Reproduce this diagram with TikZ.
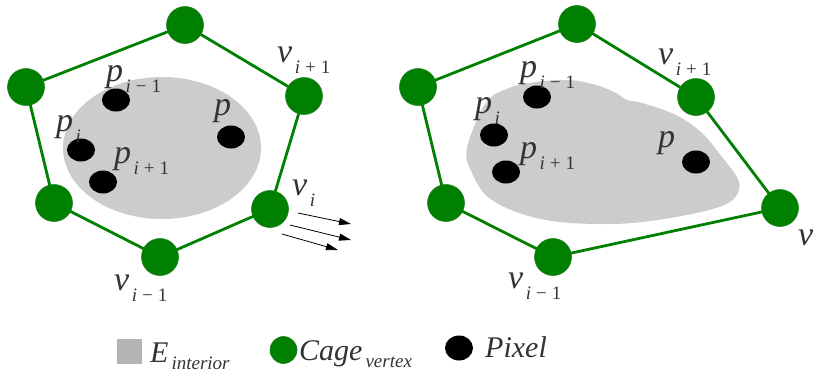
\documentclass[tikz,border=0pt]{standalone}
\usepackage{fontspec}
\setmainfont{Liberation Serif}
\usetikzlibrary{arrows.meta,backgrounds,shapes.geometric}
\definecolor{cagegreen}{HTML}{008000}
\definecolor{blobgray}{HTML}{CCCCCC}
\definecolor{leggray}{HTML}{B3B3B3}
\definecolor{txt}{HTML}{333333}
\newcommand{\mainlab}[2]{{\fontsize{34bp}{34bp}\selectfont\itshape #1}\hspace{2.5bp}\raisebox{-11bp}{\fontsize{19bp}{19bp}\selectfont #2}}
\newcommand{\legtext}[2]{{\fontsize{30bp}{30bp}\selectfont\itshape #1}\hspace{3bp}\raisebox{-7bp}{\fontsize{19bp}{19bp}\selectfont\itshape #2}}
\newcommand{\im}{\textit{i}\hspace{5bp}\char"2212\hspace{5bp}1}
\newcommand{\ip}{\textit{i}\hspace{5bp}+\hspace{5bp}1}
\begin{document}
\begin{tikzpicture}[x=1bp,y=-1bp,
  vert/.style={circle,fill=cagegreen,draw=cagegreen!75!gray,line width=0.6bp,minimum size=37bp,inner sep=0},
  pix/.style={ellipse,fill=black,minimum width=28bp,minimum height=23bp,inner sep=0},
  cage/.style={draw=cagegreen,line width=2.8bp},
  lab/.style={anchor=base west,inner sep=0,text=txt},
  mv/.style={-{Triangle[length=12bp,width=7bp]},line width=0.8bp}]
\useasboundingbox (0,0) rectangle (818,374);

% ---------- left panel ----------
\fill[blobgray] (162,148) ellipse [x radius=99, y radius=71];
\node[vert] (Lt)  at (185,25) {};
\node[vert] (Lur) at (304,96) {};
\node[vert] (Llr) at (270,209) {};
\node[vert] (Lb)  at (160,257) {};
\node[vert] (Lll) at (54,203) {};
\node[vert] (Lul) at (26,87) {};
\begin{scope}[on background layer]
  \draw[cage] (Lt.center) -- (Lur.center) -- (Llr.center) -- (Lb.center)
    -- (Lll.center) -- (Lul.center) -- cycle;
\end{scope}
\node[pix] (Lp1) at (116,100) {};
\node[pix] (Lp2) at (81,150) {};
\node[pix] (Lp3) at (103,182) {};
\node[pix] (Lp4) at (231,137) {};
\node[lab] (Llp1) at (106,81)  {\mainlab{p}{\im}};
\node[lab] (Llp2) at (56,131)  {\mainlab{p}{\textit{i}}};
\node[lab] (Llp3) at (114,163) {\mainlab{p}{\ip}};
\node[lab] (Llp4) at (214,115) {\mainlab{p}{}};
\node[lab] (Llv1) at (277,62)  {\mainlab{v}{\ip}};
\node[lab] (Llv2) at (292,195) {\mainlab{v}{\textit{i}}};
\node[lab] (Llv3) at (114,290) {\mainlab{v}{\im}};
\coordinate (m1s) at (298,213); \coordinate (m1e) at (351,224);
\coordinate (m2s) at (290,225); \coordinate (m2e) at (351,240);
\coordinate (m3s) at (282,234); \coordinate (m3e) at (338,250);
\draw[mv] (m1s) -- (m1e);
\draw[mv] (m2s) -- (m2e);
\draw[mv] (m3s) -- (m3e);

% ---------- right panel ----------
\fill[blobgray] plot[smooth cycle, tension=0.6] coordinates {
  (486,103) (509,88) (536,82) (569,80) (596,85) (616,93) (627,100)
  (642,103) (676,115) (702,133) (722,157) (737,177) (739,190) (730,202)
  (709,210) (676,217) (642,222) (609,224) (559,222) (519,213) (488,197)
  (472,173) (467,148)};
\node[vert] (Rt)  at (577,24) {};
\node[vert] (Rur) at (696,97) {};
\node[vert] (Rlr) at (780,208) {};
\node[vert] (Rb)  at (553,257) {};
\node[vert] (Rll) at (446,203) {};
\node[vert] (Rul) at (418,87) {};
\begin{scope}[on background layer]
  \draw[cage] (Rt.center) -- (Rur.center) -- (Rlr.center) -- (Rb.center)
    -- (Rll.center) -- (Rul.center) -- cycle;
\end{scope}
\node[pix] (Rp1) at (537,97) {};
\node[pix] (Rp2) at (494,135) {};
\node[pix] (Rp3) at (506,172) {};
\node[pix] (Rp4) at (696,162) {};
\node[lab] (Rlp1) at (520,77)  {\mainlab{p}{\im}};
\node[lab] (Rlp2) at (475,113) {\mainlab{p}{\textit{i}}};
\node[lab] (Rlp3) at (520,158) {\mainlab{p}{\ip}};
\node[lab] (Rlp4) at (658,147) {\mainlab{p}{}};
\node[lab] (Rlv1) at (658,64)  {\mainlab{v}{\ip}};
\node[lab] (Rlv2) at (798,245) {\mainlab{v}{}};
\node[lab] (Rlv3) at (508,288) {\mainlab{v}{\im}};

% ---------- legend ----------
\node[fill=leggray,minimum size=25bp,inner sep=0] (kE) at (129,351) {};
\node[lab] (kEt) at (150,362) {\legtext{E}{interior}};
\node[vert,minimum size=27bp] (kC) at (283.5,350) {};
\node[lab] (kCt) at (299,360) {\legtext{Cage}{vertex}};
\node[pix,minimum width=28bp,minimum height=25bp] (kP) at (459,348) {};
\node[lab] (kPt) at (485,357) {\legtext{Pixel}{}};
\end{tikzpicture}
\end{document}
